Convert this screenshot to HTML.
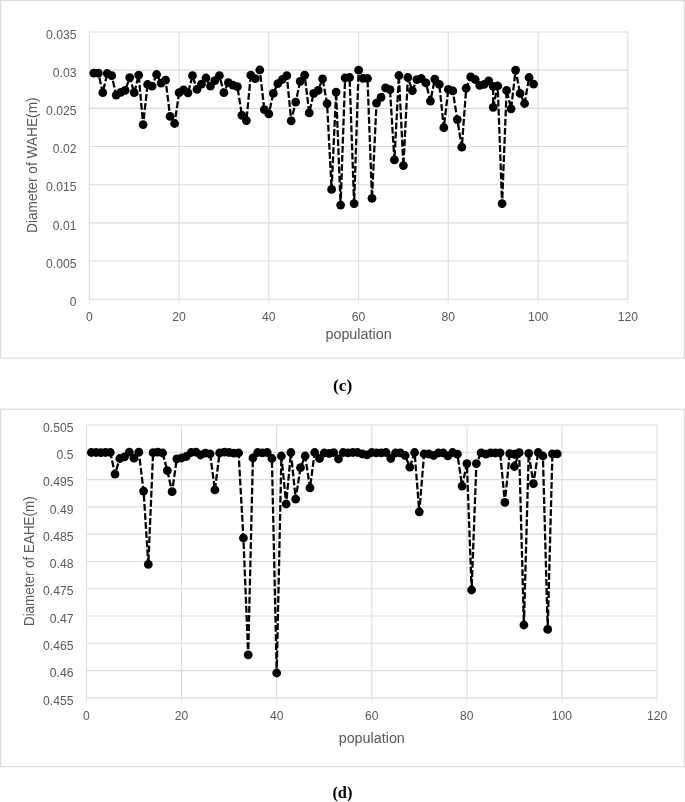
<!DOCTYPE html>
<html lang="en">
<head>
<meta charset="utf-8">
<title>Population diameter charts</title>
<style>
html,body{margin:0;padding:0;background:#fff;}
body{width:685px;height:802px;overflow:hidden;font-family:"Liberation Sans", sans-serif;}
svg{display:block;}
</style>
</head>
<body>
<svg width="685" height="802" viewBox="0 0 685 802" font-family='"Liberation Sans", sans-serif' fill="#595959">
<rect width="685" height="802" fill="#fff"/>
<rect x="0.6" y="0.5" width="683.80" height="357.70" fill="#fff" stroke="#dcdcdc" stroke-width="1.2"/>
<path d="M89.30 32.00H627.80M89.30 70.17H627.80M89.30 108.34H627.80M89.30 146.51H627.80M89.30 184.69H627.80M89.30 222.86H627.80M89.30 261.03H627.80M89.30 299.20H627.80M89.30 32.00V299.20M179.05 32.00V299.20M268.80 32.00V299.20M358.55 32.00V299.20M448.30 32.00V299.20M538.05 32.00V299.20M627.80 32.00V299.20" fill="none" stroke="#dcdcdc" stroke-width="1.1"/>
<path d="M89.30 299.70v4.5M179.05 299.70v4.5M268.80 299.70v4.5M358.55 299.70v4.5M448.30 299.70v4.5M538.05 299.70v4.5M627.80 299.70v4.5" fill="none" stroke="#ededed" stroke-width="1"/>
<text x="76.4" y="38.70" text-anchor="end" font-size="12.4" textLength="30.40" lengthAdjust="spacingAndGlyphs">0.035</text>
<text x="76.4" y="76.87" text-anchor="end" font-size="12.4" textLength="23.64" lengthAdjust="spacingAndGlyphs">0.03</text>
<text x="76.4" y="115.04" text-anchor="end" font-size="12.4" textLength="30.40" lengthAdjust="spacingAndGlyphs">0.025</text>
<text x="76.4" y="153.21" text-anchor="end" font-size="12.4" textLength="23.64" lengthAdjust="spacingAndGlyphs">0.02</text>
<text x="76.4" y="191.39" text-anchor="end" font-size="12.4" textLength="30.40" lengthAdjust="spacingAndGlyphs">0.015</text>
<text x="76.4" y="229.56" text-anchor="end" font-size="12.4" textLength="23.64" lengthAdjust="spacingAndGlyphs">0.01</text>
<text x="76.4" y="267.73" text-anchor="end" font-size="12.4" textLength="30.40" lengthAdjust="spacingAndGlyphs">0.005</text>
<text x="76.4" y="305.90" text-anchor="end" font-size="12.4" textLength="6.76" lengthAdjust="spacingAndGlyphs">0</text>
<text x="89.30" y="321.0" text-anchor="middle" font-size="12.4" textLength="6.76" lengthAdjust="spacingAndGlyphs">0</text>
<text x="179.05" y="321.0" text-anchor="middle" font-size="12.4" textLength="13.52" lengthAdjust="spacingAndGlyphs">20</text>
<text x="268.80" y="321.0" text-anchor="middle" font-size="12.4" textLength="13.52" lengthAdjust="spacingAndGlyphs">40</text>
<text x="358.55" y="321.0" text-anchor="middle" font-size="12.4" textLength="13.52" lengthAdjust="spacingAndGlyphs">60</text>
<text x="448.30" y="321.0" text-anchor="middle" font-size="12.4" textLength="13.52" lengthAdjust="spacingAndGlyphs">80</text>
<text x="538.05" y="321.0" text-anchor="middle" font-size="12.4" textLength="20.28" lengthAdjust="spacingAndGlyphs">100</text>
<text x="627.80" y="321.0" text-anchor="middle" font-size="12.4" textLength="20.28" lengthAdjust="spacingAndGlyphs">120</text>
<text x="358.55" y="339.4" text-anchor="middle" font-size="14.0" textLength="66.2" lengthAdjust="spacingAndGlyphs">population</text>
<text transform="translate(36.9 165.2) rotate(-90)" text-anchor="middle" font-size="14.0" textLength="135.6" lengthAdjust="spacingAndGlyphs">Diameter of WAHE(m)</text>
<path d="M93.8 73.1L98.3 73.1L102.8 92.7L107.2 73.5L111.7 75.7L116.2 95.1L120.7 92.4L125.2 90.4L129.7 77.6L134.2 92.7L138.7 75.2L143.1 124.6L147.6 84.5L152.1 86.1L156.6 74.5L161.1 83.1L165.6 80.2L170.1 116.4L174.6 123.5L179.1 92.7L183.5 89.9L188.0 92.9L192.5 75.7L197.0 89.4L201.5 84.1L206.0 78.0L210.5 86.1L214.9 80.6L219.4 75.7L223.9 92.7L228.4 82.7L232.9 85.1L237.4 86.6L241.9 115.4L246.4 120.6L250.8 75.2L255.3 78.7L259.8 70.0L264.3 109.6L268.8 113.9L273.3 93.4L277.8 83.7L282.3 79.5L286.8 75.7L291.2 120.8L295.7 102.1L300.2 81.4L304.7 75.2L309.2 112.9L313.7 93.4L318.2 90.4L322.6 78.8L327.1 103.6L331.6 189.4L336.1 92.1L340.6 205.1L345.1 77.8L349.6 77.5L354.1 203.6L358.6 70.2L363.0 78.3L367.5 78.5L372.0 198.3L376.5 103.1L381.0 97.4L385.5 87.9L390.0 89.7L394.4 159.9L398.9 75.5L403.4 165.6L407.9 77.5L412.4 90.6L416.9 79.7L421.4 78.5L425.9 82.9L430.4 101.1L434.8 79.2L439.3 84.4L443.8 127.7L448.3 89.4L452.8 90.9L457.3 119.6L461.8 147.2L466.2 88.2L470.7 76.8L475.2 79.5L479.7 85.4L484.2 84.4L488.7 80.8L493.2 86.3L493.2 107.3L497.7 86.0L502.1 203.6L506.6 90.4L511.1 108.8L515.6 70.1L520.1 93.5L524.6 103.5L529.1 77.5L533.6 84.2" fill="none" stroke="#000" stroke-width="2.27" stroke-dasharray="6.8 2.3" stroke-linejoin="round"/>
<g fill="#000"><circle cx="93.8" cy="73.1" r="4.4"/><circle cx="98.3" cy="73.1" r="4.4"/><circle cx="102.8" cy="92.7" r="4.4"/><circle cx="107.2" cy="73.5" r="4.4"/><circle cx="111.7" cy="75.7" r="4.4"/><circle cx="116.2" cy="95.1" r="4.4"/><circle cx="120.7" cy="92.4" r="4.4"/><circle cx="125.2" cy="90.4" r="4.4"/><circle cx="129.7" cy="77.6" r="4.4"/><circle cx="134.2" cy="92.7" r="4.4"/><circle cx="138.7" cy="75.2" r="4.4"/><circle cx="143.1" cy="124.6" r="4.4"/><circle cx="147.6" cy="84.5" r="4.4"/><circle cx="152.1" cy="86.1" r="4.4"/><circle cx="156.6" cy="74.5" r="4.4"/><circle cx="161.1" cy="83.1" r="4.4"/><circle cx="165.6" cy="80.2" r="4.4"/><circle cx="170.1" cy="116.4" r="4.4"/><circle cx="174.6" cy="123.5" r="4.4"/><circle cx="179.1" cy="92.7" r="4.4"/><circle cx="183.5" cy="89.9" r="4.4"/><circle cx="188.0" cy="92.9" r="4.4"/><circle cx="192.5" cy="75.7" r="4.4"/><circle cx="197.0" cy="89.4" r="4.4"/><circle cx="201.5" cy="84.1" r="4.4"/><circle cx="206.0" cy="78.0" r="4.4"/><circle cx="210.5" cy="86.1" r="4.4"/><circle cx="214.9" cy="80.6" r="4.4"/><circle cx="219.4" cy="75.7" r="4.4"/><circle cx="223.9" cy="92.7" r="4.4"/><circle cx="228.4" cy="82.7" r="4.4"/><circle cx="232.9" cy="85.1" r="4.4"/><circle cx="237.4" cy="86.6" r="4.4"/><circle cx="241.9" cy="115.4" r="4.4"/><circle cx="246.4" cy="120.6" r="4.4"/><circle cx="250.8" cy="75.2" r="4.4"/><circle cx="255.3" cy="78.7" r="4.4"/><circle cx="259.8" cy="70.0" r="4.4"/><circle cx="264.3" cy="109.6" r="4.4"/><circle cx="268.8" cy="113.9" r="4.4"/><circle cx="273.3" cy="93.4" r="4.4"/><circle cx="277.8" cy="83.7" r="4.4"/><circle cx="282.3" cy="79.5" r="4.4"/><circle cx="286.8" cy="75.7" r="4.4"/><circle cx="291.2" cy="120.8" r="4.4"/><circle cx="295.7" cy="102.1" r="4.4"/><circle cx="300.2" cy="81.4" r="4.4"/><circle cx="304.7" cy="75.2" r="4.4"/><circle cx="309.2" cy="112.9" r="4.4"/><circle cx="313.7" cy="93.4" r="4.4"/><circle cx="318.2" cy="90.4" r="4.4"/><circle cx="322.6" cy="78.8" r="4.4"/><circle cx="327.1" cy="103.6" r="4.4"/><circle cx="331.6" cy="189.4" r="4.4"/><circle cx="336.1" cy="92.1" r="4.4"/><circle cx="340.6" cy="205.1" r="4.4"/><circle cx="345.1" cy="77.8" r="4.4"/><circle cx="349.6" cy="77.5" r="4.4"/><circle cx="354.1" cy="203.6" r="4.4"/><circle cx="358.6" cy="70.2" r="4.4"/><circle cx="363.0" cy="78.3" r="4.4"/><circle cx="367.5" cy="78.5" r="4.4"/><circle cx="372.0" cy="198.3" r="4.4"/><circle cx="376.5" cy="103.1" r="4.4"/><circle cx="381.0" cy="97.4" r="4.4"/><circle cx="385.5" cy="87.9" r="4.4"/><circle cx="390.0" cy="89.7" r="4.4"/><circle cx="394.4" cy="159.9" r="4.4"/><circle cx="398.9" cy="75.5" r="4.4"/><circle cx="403.4" cy="165.6" r="4.4"/><circle cx="407.9" cy="77.5" r="4.4"/><circle cx="412.4" cy="90.6" r="4.4"/><circle cx="416.9" cy="79.7" r="4.4"/><circle cx="421.4" cy="78.5" r="4.4"/><circle cx="425.9" cy="82.9" r="4.4"/><circle cx="430.4" cy="101.1" r="4.4"/><circle cx="434.8" cy="79.2" r="4.4"/><circle cx="439.3" cy="84.4" r="4.4"/><circle cx="443.8" cy="127.7" r="4.4"/><circle cx="448.3" cy="89.4" r="4.4"/><circle cx="452.8" cy="90.9" r="4.4"/><circle cx="457.3" cy="119.6" r="4.4"/><circle cx="461.8" cy="147.2" r="4.4"/><circle cx="466.2" cy="88.2" r="4.4"/><circle cx="470.7" cy="76.8" r="4.4"/><circle cx="475.2" cy="79.5" r="4.4"/><circle cx="479.7" cy="85.4" r="4.4"/><circle cx="484.2" cy="84.4" r="4.4"/><circle cx="488.7" cy="80.8" r="4.4"/><circle cx="493.2" cy="86.3" r="4.4"/><circle cx="493.2" cy="107.3" r="4.4"/><circle cx="497.7" cy="86.0" r="4.4"/><circle cx="502.1" cy="203.6" r="4.4"/><circle cx="506.6" cy="90.4" r="4.4"/><circle cx="511.1" cy="108.8" r="4.4"/><circle cx="515.6" cy="70.1" r="4.4"/><circle cx="520.1" cy="93.5" r="4.4"/><circle cx="524.6" cy="103.5" r="4.4"/><circle cx="529.1" cy="77.5" r="4.4"/><circle cx="533.6" cy="84.2" r="4.4"/></g>
<rect x="0.6" y="409.2" width="683.80" height="357.40" fill="#fff" stroke="#dcdcdc" stroke-width="1.2"/>
<path d="M86.50 425.00H657.04M86.50 452.29H657.04M86.50 479.58H657.04M86.50 506.87H657.04M86.50 534.16H657.04M86.50 561.45H657.04M86.50 588.74H657.04M86.50 616.03H657.04M86.50 643.32H657.04M86.50 670.61H657.04M86.50 697.90H657.04M86.50 425.00V697.90M181.59 425.00V697.90M276.68 425.00V697.90M371.77 425.00V697.90M466.86 425.00V697.90M561.95 425.00V697.90M657.04 425.00V697.90" fill="none" stroke="#dcdcdc" stroke-width="1.1"/>
<path d="M86.50 698.40v4.5M181.59 698.40v4.5M276.68 698.40v4.5M371.77 698.40v4.5M466.86 698.40v4.5M561.95 698.40v4.5M657.04 698.40v4.5" fill="none" stroke="#ededed" stroke-width="1"/>
<text x="73.4" y="431.70" text-anchor="end" font-size="12.4" textLength="30.40" lengthAdjust="spacingAndGlyphs">0.505</text>
<text x="73.4" y="458.99" text-anchor="end" font-size="12.4" textLength="16.88" lengthAdjust="spacingAndGlyphs">0.5</text>
<text x="73.4" y="486.28" text-anchor="end" font-size="12.4" textLength="30.40" lengthAdjust="spacingAndGlyphs">0.495</text>
<text x="73.4" y="513.57" text-anchor="end" font-size="12.4" textLength="23.64" lengthAdjust="spacingAndGlyphs">0.49</text>
<text x="73.4" y="540.86" text-anchor="end" font-size="12.4" textLength="30.40" lengthAdjust="spacingAndGlyphs">0.485</text>
<text x="73.4" y="568.15" text-anchor="end" font-size="12.4" textLength="23.64" lengthAdjust="spacingAndGlyphs">0.48</text>
<text x="73.4" y="595.44" text-anchor="end" font-size="12.4" textLength="30.40" lengthAdjust="spacingAndGlyphs">0.475</text>
<text x="73.4" y="622.73" text-anchor="end" font-size="12.4" textLength="23.64" lengthAdjust="spacingAndGlyphs">0.47</text>
<text x="73.4" y="650.02" text-anchor="end" font-size="12.4" textLength="30.40" lengthAdjust="spacingAndGlyphs">0.465</text>
<text x="73.4" y="677.31" text-anchor="end" font-size="12.4" textLength="23.64" lengthAdjust="spacingAndGlyphs">0.46</text>
<text x="73.4" y="704.60" text-anchor="end" font-size="12.4" textLength="30.40" lengthAdjust="spacingAndGlyphs">0.455</text>
<text x="86.50" y="719.5" text-anchor="middle" font-size="12.4" textLength="6.76" lengthAdjust="spacingAndGlyphs">0</text>
<text x="181.59" y="719.5" text-anchor="middle" font-size="12.4" textLength="13.52" lengthAdjust="spacingAndGlyphs">20</text>
<text x="276.68" y="719.5" text-anchor="middle" font-size="12.4" textLength="13.52" lengthAdjust="spacingAndGlyphs">40</text>
<text x="371.77" y="719.5" text-anchor="middle" font-size="12.4" textLength="13.52" lengthAdjust="spacingAndGlyphs">60</text>
<text x="466.86" y="719.5" text-anchor="middle" font-size="12.4" textLength="13.52" lengthAdjust="spacingAndGlyphs">80</text>
<text x="561.95" y="719.5" text-anchor="middle" font-size="12.4" textLength="20.28" lengthAdjust="spacingAndGlyphs">100</text>
<text x="657.04" y="719.5" text-anchor="middle" font-size="12.4" textLength="20.28" lengthAdjust="spacingAndGlyphs">120</text>
<text x="371.77" y="743.2" text-anchor="middle" font-size="14.0" textLength="66.2" lengthAdjust="spacingAndGlyphs">population</text>
<text transform="translate(34.3 561.2) rotate(-90)" text-anchor="middle" font-size="14.0" textLength="129.7" lengthAdjust="spacingAndGlyphs">Diameter of EAHE(m)</text>
<path d="M91.3 452.5L96.0 452.5L100.8 452.7L105.5 452.5L110.3 452.5L115.0 474.1L119.8 458.5L124.5 456.8L129.3 452.2L134.0 458.2L138.8 452.2L143.6 491.1L148.3 564.4L153.1 452.7L157.8 452.2L162.6 453.0L167.3 470.6L172.1 491.7L176.8 458.8L181.6 458.0L186.3 456.5L191.1 452.5L195.9 452.2L200.6 455.0L205.4 453.2L210.1 454.0L214.9 489.9L219.6 453.0L224.4 452.2L229.1 452.5L233.9 453.2L238.6 453.0L243.4 538.0L248.2 654.8L252.9 458.0L257.7 452.5L262.4 452.8L267.2 452.5L271.9 458.5L276.7 673.0L281.4 456.0L286.2 504.0L290.9 452.5L295.7 499.1L300.5 467.7L305.2 456.0L310.0 487.9L314.7 452.5L319.5 458.5L324.2 453.0L329.0 453.5L333.7 452.7L338.5 459.0L343.2 452.5L348.0 452.8L352.8 452.5L357.5 452.5L362.3 454.0L367.0 454.8L371.8 452.5L376.5 452.8L381.3 452.8L386.0 452.5L390.8 458.5L395.5 453.0L400.3 452.8L405.1 455.5L409.8 467.1L414.6 452.5L419.3 511.8L424.1 454.0L428.8 454.0L433.6 455.5L438.3 453.0L443.1 452.8L447.8 455.8L452.6 452.5L457.4 454.2L462.1 486.1L466.9 463.6L471.6 590.0L476.4 463.6L481.1 452.8L485.9 454.2L490.6 452.8L495.4 453.0L500.1 452.8L504.9 502.3L509.7 453.7L514.4 454.2L514.4 466.5L519.2 452.7L523.9 625.0L528.7 453.3L533.4 483.6L538.2 452.5L542.9 456.0L547.7 629.4L552.4 453.8L557.2 453.8" fill="none" stroke="#000" stroke-width="2.27" stroke-dasharray="6.8 2.3" stroke-linejoin="round"/>
<g fill="#000"><circle cx="91.3" cy="452.5" r="4.4"/><circle cx="96.0" cy="452.5" r="4.4"/><circle cx="100.8" cy="452.7" r="4.4"/><circle cx="105.5" cy="452.5" r="4.4"/><circle cx="110.3" cy="452.5" r="4.4"/><circle cx="115.0" cy="474.1" r="4.4"/><circle cx="119.8" cy="458.5" r="4.4"/><circle cx="124.5" cy="456.8" r="4.4"/><circle cx="129.3" cy="452.2" r="4.4"/><circle cx="134.0" cy="458.2" r="4.4"/><circle cx="138.8" cy="452.2" r="4.4"/><circle cx="143.6" cy="491.1" r="4.4"/><circle cx="148.3" cy="564.4" r="4.4"/><circle cx="153.1" cy="452.7" r="4.4"/><circle cx="157.8" cy="452.2" r="4.4"/><circle cx="162.6" cy="453.0" r="4.4"/><circle cx="167.3" cy="470.6" r="4.4"/><circle cx="172.1" cy="491.7" r="4.4"/><circle cx="176.8" cy="458.8" r="4.4"/><circle cx="181.6" cy="458.0" r="4.4"/><circle cx="186.3" cy="456.5" r="4.4"/><circle cx="191.1" cy="452.5" r="4.4"/><circle cx="195.9" cy="452.2" r="4.4"/><circle cx="200.6" cy="455.0" r="4.4"/><circle cx="205.4" cy="453.2" r="4.4"/><circle cx="210.1" cy="454.0" r="4.4"/><circle cx="214.9" cy="489.9" r="4.4"/><circle cx="219.6" cy="453.0" r="4.4"/><circle cx="224.4" cy="452.2" r="4.4"/><circle cx="229.1" cy="452.5" r="4.4"/><circle cx="233.9" cy="453.2" r="4.4"/><circle cx="238.6" cy="453.0" r="4.4"/><circle cx="243.4" cy="538.0" r="4.4"/><circle cx="248.2" cy="654.8" r="4.4"/><circle cx="252.9" cy="458.0" r="4.4"/><circle cx="257.7" cy="452.5" r="4.4"/><circle cx="262.4" cy="452.8" r="4.4"/><circle cx="267.2" cy="452.5" r="4.4"/><circle cx="271.9" cy="458.5" r="4.4"/><circle cx="276.7" cy="673.0" r="4.4"/><circle cx="281.4" cy="456.0" r="4.4"/><circle cx="286.2" cy="504.0" r="4.4"/><circle cx="290.9" cy="452.5" r="4.4"/><circle cx="295.7" cy="499.1" r="4.4"/><circle cx="300.5" cy="467.7" r="4.4"/><circle cx="305.2" cy="456.0" r="4.4"/><circle cx="310.0" cy="487.9" r="4.4"/><circle cx="314.7" cy="452.5" r="4.4"/><circle cx="319.5" cy="458.5" r="4.4"/><circle cx="324.2" cy="453.0" r="4.4"/><circle cx="329.0" cy="453.5" r="4.4"/><circle cx="333.7" cy="452.7" r="4.4"/><circle cx="338.5" cy="459.0" r="4.4"/><circle cx="343.2" cy="452.5" r="4.4"/><circle cx="348.0" cy="452.8" r="4.4"/><circle cx="352.8" cy="452.5" r="4.4"/><circle cx="357.5" cy="452.5" r="4.4"/><circle cx="362.3" cy="454.0" r="4.4"/><circle cx="367.0" cy="454.8" r="4.4"/><circle cx="371.8" cy="452.5" r="4.4"/><circle cx="376.5" cy="452.8" r="4.4"/><circle cx="381.3" cy="452.8" r="4.4"/><circle cx="386.0" cy="452.5" r="4.4"/><circle cx="390.8" cy="458.5" r="4.4"/><circle cx="395.5" cy="453.0" r="4.4"/><circle cx="400.3" cy="452.8" r="4.4"/><circle cx="405.1" cy="455.5" r="4.4"/><circle cx="409.8" cy="467.1" r="4.4"/><circle cx="414.6" cy="452.5" r="4.4"/><circle cx="419.3" cy="511.8" r="4.4"/><circle cx="424.1" cy="454.0" r="4.4"/><circle cx="428.8" cy="454.0" r="4.4"/><circle cx="433.6" cy="455.5" r="4.4"/><circle cx="438.3" cy="453.0" r="4.4"/><circle cx="443.1" cy="452.8" r="4.4"/><circle cx="447.8" cy="455.8" r="4.4"/><circle cx="452.6" cy="452.5" r="4.4"/><circle cx="457.4" cy="454.2" r="4.4"/><circle cx="462.1" cy="486.1" r="4.4"/><circle cx="466.9" cy="463.6" r="4.4"/><circle cx="471.6" cy="590.0" r="4.4"/><circle cx="476.4" cy="463.6" r="4.4"/><circle cx="481.1" cy="452.8" r="4.4"/><circle cx="485.9" cy="454.2" r="4.4"/><circle cx="490.6" cy="452.8" r="4.4"/><circle cx="495.4" cy="453.0" r="4.4"/><circle cx="500.1" cy="452.8" r="4.4"/><circle cx="504.9" cy="502.3" r="4.4"/><circle cx="509.7" cy="453.7" r="4.4"/><circle cx="514.4" cy="454.2" r="4.4"/><circle cx="514.4" cy="466.5" r="4.4"/><circle cx="519.2" cy="452.7" r="4.4"/><circle cx="523.9" cy="625.0" r="4.4"/><circle cx="528.7" cy="453.3" r="4.4"/><circle cx="533.4" cy="483.6" r="4.4"/><circle cx="538.2" cy="452.5" r="4.4"/><circle cx="542.9" cy="456.0" r="4.4"/><circle cx="547.7" cy="629.4" r="4.4"/><circle cx="552.4" cy="453.8" r="4.4"/><circle cx="557.2" cy="453.8" r="4.4"/></g>
<text x="342.7" y="391.3" text-anchor="middle" font-family='"Liberation Serif", serif' font-weight="bold" font-size="17.4" fill="#000">(c)</text>
<text x="342.4" y="798.1" text-anchor="middle" font-family='"Liberation Serif", serif' font-weight="bold" font-size="16.4" fill="#000">(d)</text>
</svg>
</body>
</html>
